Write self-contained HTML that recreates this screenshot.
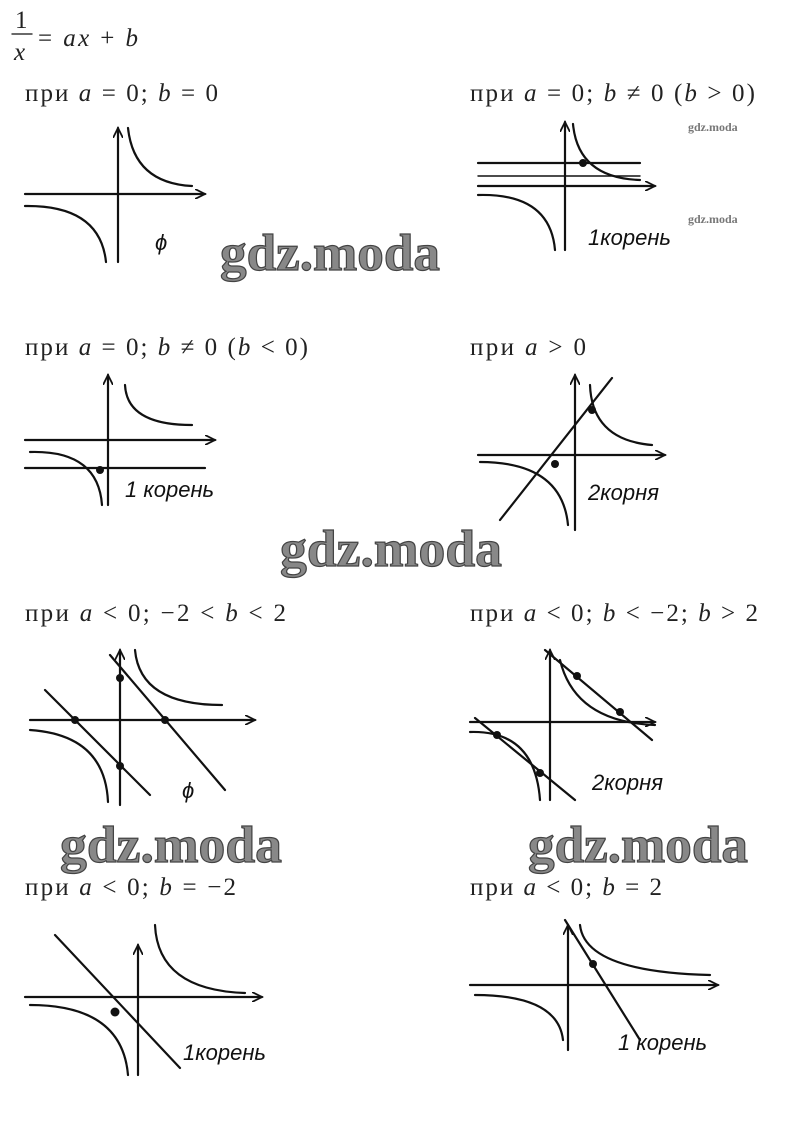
<!DOCTYPE html>
<html><head><meta charset="utf-8"><style>
html,body{margin:0;padding:0;background:#fff;}
svg{display:block;}
.t{font-family:"Liberation Serif","DejaVu Serif",serif;font-size:25px;fill:#222;}
.i{font-style:italic;}
.h{font-family:"Liberation Sans",sans-serif;font-style:italic;font-size:22px;fill:#111;}
.w{font-family:"Liberation Serif",serif;font-weight:bold;font-size:52px;fill:#888;stroke:#444;stroke-width:1.2;}
.ws{font-family:"Liberation Serif",serif;font-weight:bold;font-size:12px;fill:#777;}
path,line{stroke:#111;stroke-width:2.2;fill:none;stroke-linecap:round;}
</style></head><body>
<svg width="788" height="1134" viewBox="0 0 788 1134" xmlns="http://www.w3.org/2000/svg">
<defs><marker id="a" markerWidth="12" markerHeight="10" refX="10" refY="5" orient="auto" markerUnits="userSpaceOnUse"><path d="M0,0 L10,5 L0,10" style="stroke-width:1.8"/></marker></defs>

<text class="t" x="15" y="28">1</text>
<line x1="12" y1="34" x2="32" y2="34" style="stroke-width:1.3"/>
<text class="t i" x="14" y="60">x</text>
<text class="t" x="38" y="46" textLength="100" lengthAdjust="spacing">= <tspan class="i">ax</tspan> + <tspan class="i">b</tspan></text>

<text class="t" x="25" y="101" textLength="193" lengthAdjust="spacing">при <tspan class="i">a</tspan> = 0; <tspan class="i">b</tspan> = 0</text>
<text class="t" x="470" y="101" textLength="285" lengthAdjust="spacing">при <tspan class="i">a</tspan> = 0; <tspan class="i">b</tspan> ≠ 0 (<tspan class="i">b</tspan> &gt; 0)</text>
<text class="t" x="25" y="355" textLength="283" lengthAdjust="spacing">при <tspan class="i">a</tspan> = 0; <tspan class="i">b</tspan> ≠ 0 (<tspan class="i">b</tspan> &lt; 0)</text>
<text class="t" x="470" y="355" textLength="116" lengthAdjust="spacing">при <tspan class="i">a</tspan> &gt; 0</text>
<text class="t" x="25" y="621" textLength="261" lengthAdjust="spacing">при <tspan class="i">a</tspan> &lt; 0; −2 &lt; <tspan class="i">b</tspan> &lt; 2</text>
<text class="t" x="470" y="621" textLength="288" lengthAdjust="spacing">при <tspan class="i">a</tspan> &lt; 0; <tspan class="i">b</tspan> &lt; −2; <tspan class="i">b</tspan> &gt; 2</text>
<text class="t" x="25" y="895" textLength="211" lengthAdjust="spacing">при <tspan class="i">a</tspan> &lt; 0; <tspan class="i">b</tspan> = −2</text>
<text class="t" x="470" y="895" textLength="192" lengthAdjust="spacing">при <tspan class="i">a</tspan> &lt; 0; <tspan class="i">b</tspan> = 2</text>

<!-- 1 -->
<line x1="25" y1="194" x2="205" y2="194" marker-end="url(#a)"/>
<line x1="118" y1="262" x2="118" y2="128" marker-end="url(#a)"/>
<path d="M128,128 Q134,183 192,186"/>
<path d="M25,206 Q100,205 106,262"/>
<text class="h" x="155" y="250">ϕ</text>
<text class="w" x="220" y="270" textLength="220" lengthAdjust="spacingAndGlyphs">gdz.moda</text>

<!-- 2 -->
<line x1="478" y1="186" x2="655" y2="186" marker-end="url(#a)"/>
<line x1="565" y1="250" x2="565" y2="122" marker-end="url(#a)"/>
<line x1="478" y1="163" x2="640" y2="163"/>
<line x1="478" y1="176" x2="640" y2="176" style="stroke-width:1.4"/>
<path d="M573,124 Q578,178 640,180"/>
<path d="M478,195 Q550,193 555,250"/>
<circle cx="583" cy="163" r="4" fill="#111"/>
<text class="h" x="588" y="245">1корень</text>
<text class="ws" x="688" y="131">gdz.moda</text>
<text class="ws" x="688" y="223">gdz.moda</text>

<!-- 3 -->
<line x1="25" y1="440" x2="215" y2="440" marker-end="url(#a)"/>
<line x1="108" y1="505" x2="108" y2="375" marker-end="url(#a)"/>
<line x1="25" y1="468" x2="205" y2="468"/>
<path d="M125,385 Q127,425 192,425"/>
<path d="M30,452 Q98,450 102,505"/>
<circle cx="100" cy="470" r="4" fill="#111"/>
<text class="h" x="125" y="497">1 корень</text>

<!-- 4 -->
<line x1="478" y1="455" x2="665" y2="455" marker-end="url(#a)"/>
<line x1="575" y1="530" x2="575" y2="375" marker-end="url(#a)"/>
<line x1="500" y1="520" x2="612" y2="378"/>
<path d="M590,385 Q592,440 652,445"/>
<path d="M480,462 Q562,462 568,525"/>
<circle cx="592" cy="410" r="4" fill="#111"/>
<circle cx="555" cy="464" r="4" fill="#111"/>
<text class="h" x="588" y="500">2корня</text>
<text class="w" x="280" y="566" textLength="222" lengthAdjust="spacingAndGlyphs">gdz.moda</text>

<!-- 5 -->
<line x1="30" y1="720" x2="255" y2="720" marker-end="url(#a)"/>
<line x1="120" y1="805" x2="120" y2="650" marker-end="url(#a)"/>
<line x1="45" y1="690" x2="150" y2="795"/>
<line x1="110" y1="655" x2="225" y2="790"/>
<path d="M135,650 Q140,705 222,705"/>
<path d="M30,730 Q105,735 108,802"/>
<circle cx="120" cy="678" r="4" fill="#111"/>
<circle cx="75" cy="720" r="4" fill="#111"/>
<circle cx="120" cy="766" r="4" fill="#111"/>
<circle cx="165" cy="720" r="4" fill="#111"/>
<text class="h" x="182" y="798">ϕ</text>

<!-- 6 -->
<line x1="470" y1="722" x2="655" y2="722" marker-end="url(#a)"/>
<line x1="550" y1="800" x2="550" y2="650" marker-end="url(#a)"/>
<line x1="475" y1="718" x2="575" y2="800"/>
<line x1="545" y1="650" x2="652" y2="740"/>
<path d="M560,660 Q575,722 655,725"/>
<path d="M470,732 Q535,730 540,800"/>
<circle cx="577" cy="676" r="4" fill="#111"/>
<circle cx="620" cy="712" r="4" fill="#111"/>
<circle cx="497" cy="735" r="4" fill="#111"/>
<circle cx="540" cy="773" r="4" fill="#111"/>
<text class="h" x="592" y="790">2корня</text>
<text class="w" x="60" y="862" textLength="222" lengthAdjust="spacingAndGlyphs">gdz.moda</text>
<text class="w" x="528" y="862" textLength="220" lengthAdjust="spacingAndGlyphs">gdz.moda</text>

<!-- 7 -->
<line x1="25" y1="997" x2="262" y2="997" marker-end="url(#a)"/>
<line x1="138" y1="1075" x2="138" y2="945" marker-end="url(#a)"/>
<path d="M155,925 Q158,990 245,993"/>
<line x1="55" y1="935" x2="180" y2="1068"/>
<path d="M30,1005 Q122,1005 128,1075"/>
<circle cx="115" cy="1012" r="4.5" fill="#111"/>
<text class="h" x="183" y="1060">1корень</text>

<!-- 8 -->
<line x1="470" y1="985" x2="718" y2="985" marker-end="url(#a)"/>
<line x1="568" y1="1050" x2="568" y2="925" marker-end="url(#a)"/>
<path d="M580,925 Q585,972 710,975"/>
<path d="M475,995 Q558,995 563,1040"/>
<line x1="565" y1="920" x2="640" y2="1040"/>
<circle cx="593" cy="964" r="4" fill="#111"/>
<text class="h" x="618" y="1050">1 корень</text>
</svg>
</body></html>
